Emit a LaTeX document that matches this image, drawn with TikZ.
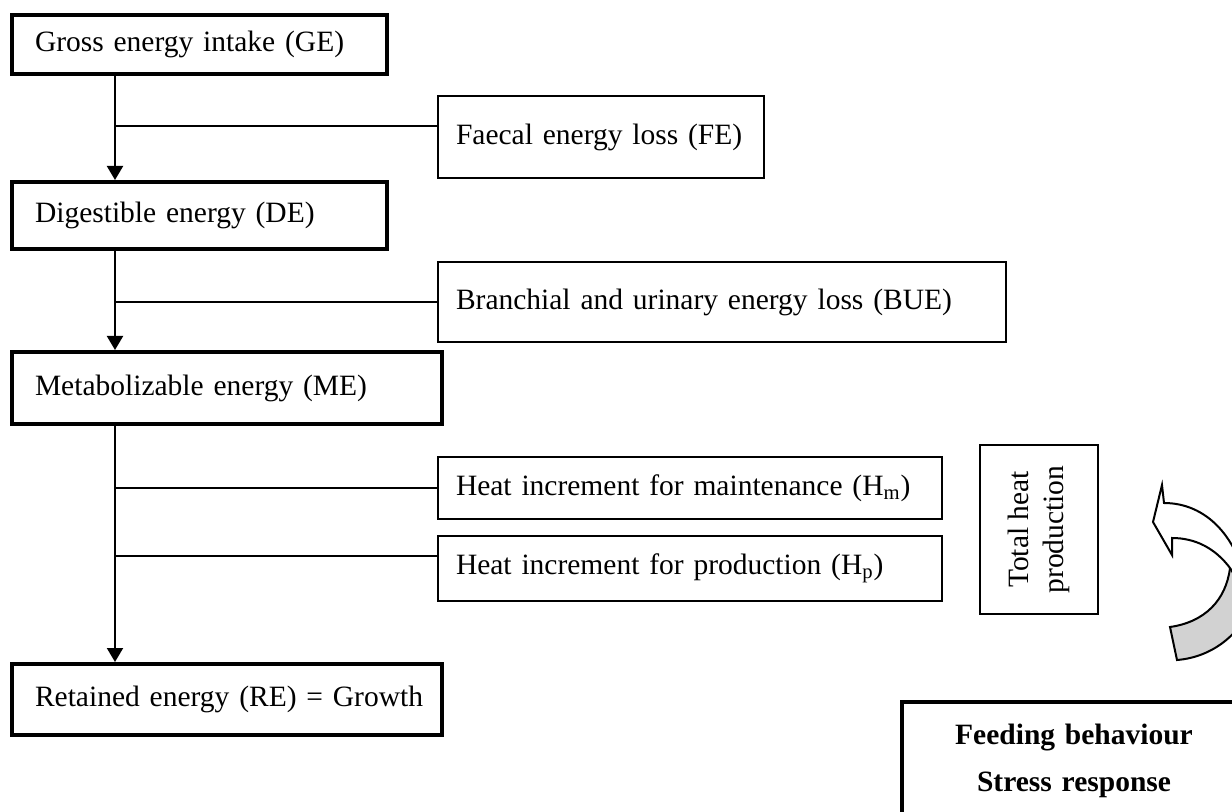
\documentclass[tikz,border=0pt]{standalone}
\usepackage{fontspec}
\setmainfont{Liberation Serif}
\usetikzlibrary{arrows.meta, positioning}
\tikzset{x=0.5pt, y=-0.5pt, % one unit is one pixel of the page, y runs down
mainbox/.style={ % thick boxes of the energy chain
draw, line width=2pt, anchor=north west,
inner xsep=11.5pt, align=left},
lossbox/.style={ % thin boxes of the losses
draw, line width=1pt, anchor=north west,
inner xsep=9pt, align=left},
flow/.style={ % arrows down the chain
draw, line width=1pt, -{Triangle[length=7pt,width=8pt]}},
branch/.style={draw, line width=1pt}}

\begin{document}
\begin{tikzpicture}[font=\fontsize{14.75}{17.7}\selectfont]
    \useasboundingbox (0,0) rectangle (1232,812);
    \coordinate (trunk) at (115,0);
    % energy chain
    \node[mainbox, text width=164.5pt, minimum height=29.5pt] (ge) at (10,13) {\mbox{Gross energy intake (GE)}};
    \node[mainbox, text width=164.5pt, minimum height=33.5pt] (de) at (10,180) {\mbox{Digestible energy (DE)}};
    \node[mainbox, text width=192pt, minimum height=36pt] (me) at (10,350) {\mbox{Metabolizable energy (ME)}};
    \node[mainbox, text width=192pt, minimum height=35.5pt] (re) at (10,662) {\mbox{Retained energy (RE) = Growth}};
    % losses
    \node[lossbox, text width=145pt, minimum height=41pt] (fe) at (437,95) {\mbox{Faecal energy loss (FE)}};
    \node[lossbox, text width=266pt, minimum height=40pt] (bue) at (437,261) {\mbox{Branchial and urinary energy loss (BUE)}};
    \node[lossbox, text width=234pt, minimum height=31pt] (hm) at (437,456) {\mbox{Heat increment for maintenance (H\textsubscript{m})}};
    \node[lossbox, text width=234pt, minimum height=32.5pt] (hp) at (437,535) {\mbox{Heat increment for production (H\textsubscript{p})}};
    \node[lossbox, rotate=90, anchor=center, align=center, minimum width=84.5pt, minimum height=59pt] (heat) at (1039,529.5) {Total heat\\production};
    \node[mainbox, align=center, text width=149pt, inner ysep=11pt, text depth=45pt,
          font=\fontsize{14.75}{17.7}\selectfont\bfseries] (feed) at (900,700) {Feeding behaviour\\[6pt]Stress response};
    % arrows and branches
    \draw[flow] (trunk |- ge.south) -- (trunk |- de.north);
    \draw[flow] (trunk |- de.south) -- (trunk |- me.north);
    \draw[flow] (trunk |- me.south) -- (trunk |- re.north);
    \draw[branch] ([yshift=5.5pt]fe.west -| trunk) -- ([yshift=5.5pt]fe.west);
    \draw[branch] (trunk |- bue.west) -- (bue.west);
    \draw[branch] (trunk |- hm.west) -- (hm.west);
    \draw[branch] ([yshift=6pt]hp.west -| trunk) -- ([yshift=6pt]hp.west);
    % curved arrow, back and front
    \filldraw[fill=gray!35, line width=1pt] (1170,627) .. controls (1205,622) and (1226,600) .. (1230,568) -- (1260,580) .. controls (1250,630) and (1215,657) .. (1177,660) -- cycle;
    \filldraw[fill=white, line width=1pt] (1153,522) -- (1162,485) -- (1164,503) .. controls (1205,503) and (1240,535) .. (1250,600) -- (1230,568) .. controls (1215,548) and (1195,538) .. (1172,538) -- (1172,555) -- cycle;
\end{tikzpicture}
\end{document}
